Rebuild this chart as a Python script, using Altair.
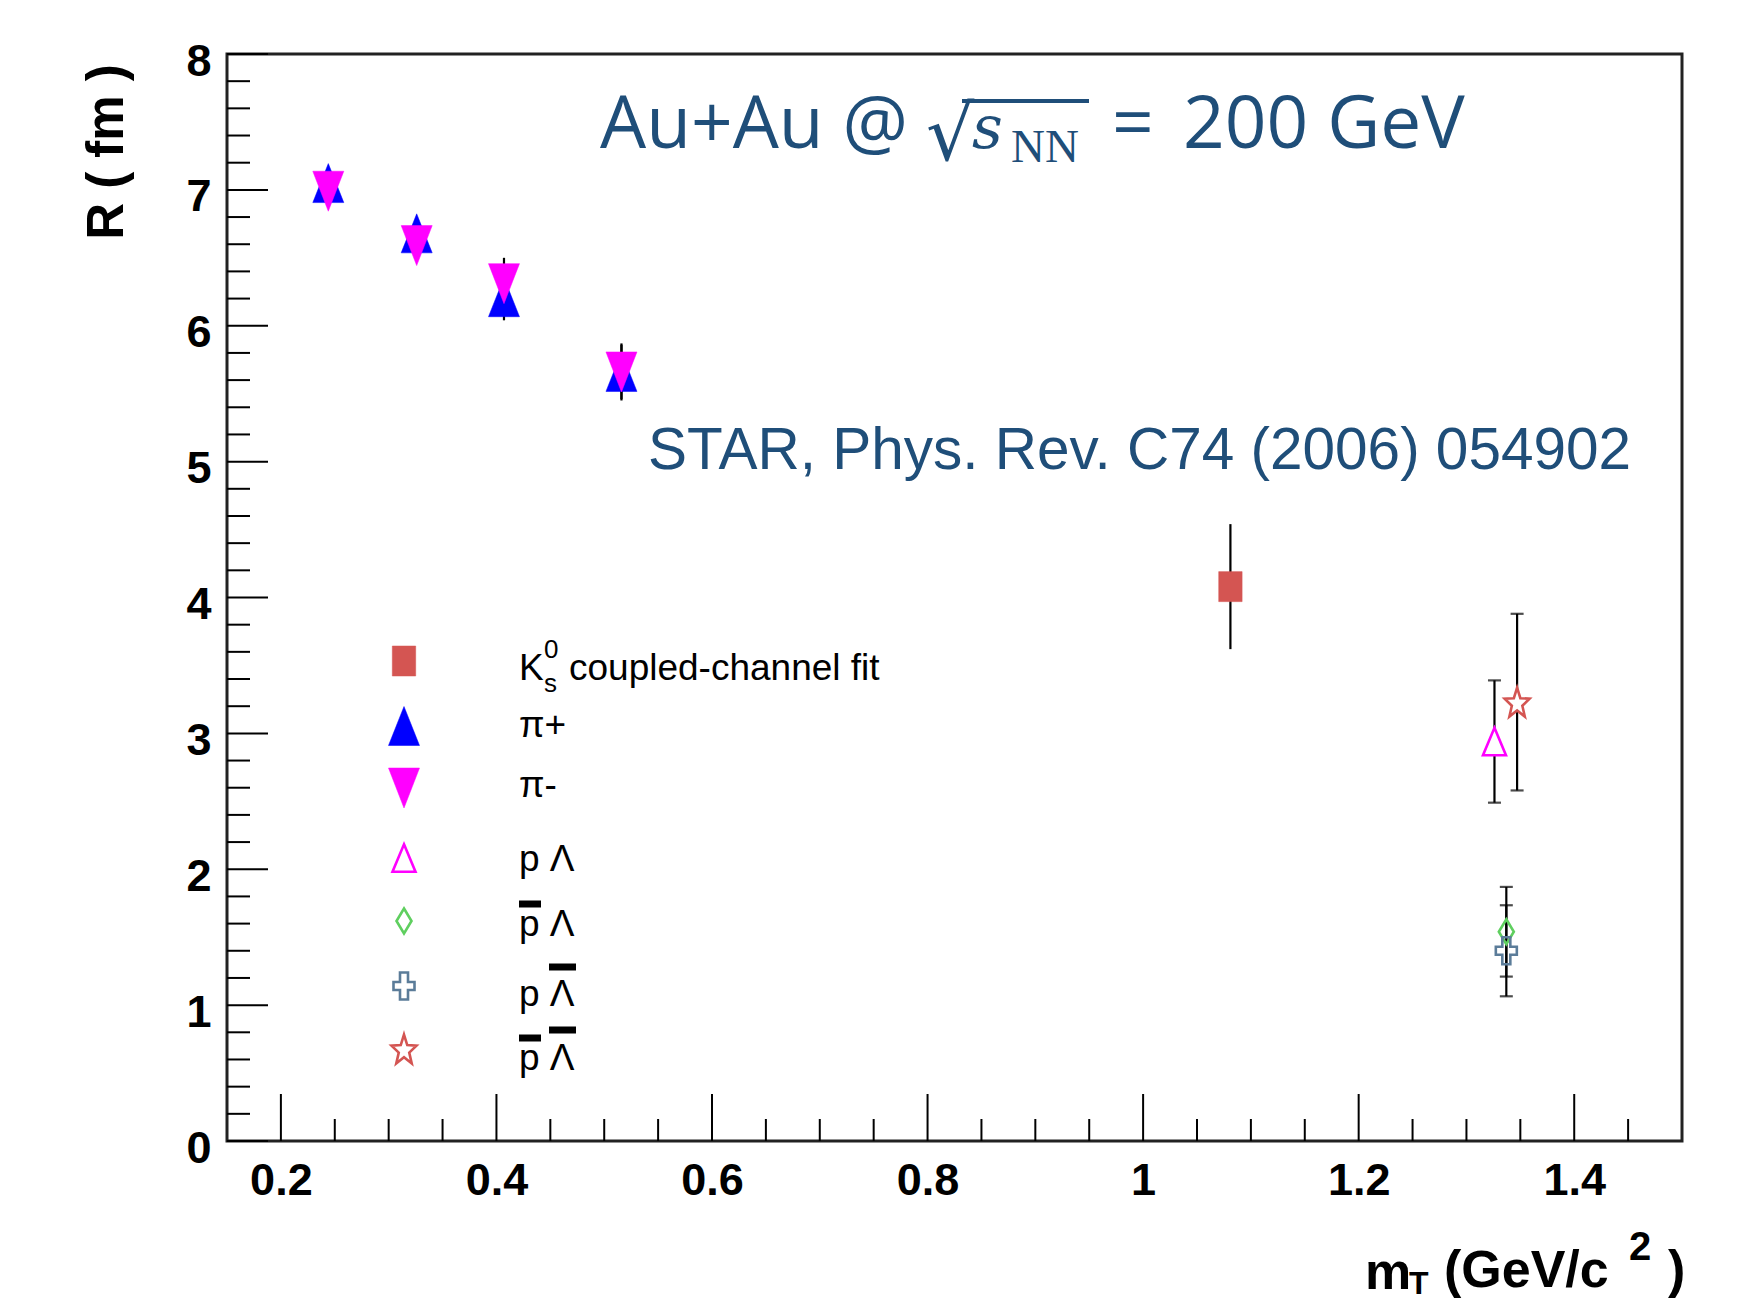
import math
import altair as alt
import pandas as pd

# ---------------- data ----------------
series_names = ["K0", "pi+", "pi-", "pL", "pbarL", "pLbar", "pbarLbar"]

pion_mt = [0.244, 0.326, 0.407, 0.516]
pip_R = [7.05, 6.68, 6.21, 5.66]
pip_err = [0.08, 0.08, 0.17, 0.20]
pim_R = [6.99, 6.59, 6.31, 5.66]
pim_err = [0.08, 0.08, 0.19, 0.21]

k0_mt = [1.081]
k0_R = [4.08]
k0_err = [0.46]

plam_series = ["pL", "pbarL", "pLbar", "pbarLbar"]
plam_mt = [1.326, 1.337, 1.337, 1.347]
plam_R = [2.94, 1.54, 1.40, 3.23]
plam_err = [0.45, 0.33, 0.335, 0.65]

x_major = [0.2, 0.4, 0.6, 0.8, 1.0, 1.2, 1.4]
x_minor = [0.25, 0.3, 0.35, 0.45, 0.5, 0.55, 0.65, 0.7, 0.75, 0.85, 0.9, 0.95,
           1.05, 1.1, 1.15, 1.25, 1.3, 1.35, 1.45]
y_major = [0, 1, 2, 3, 4, 5, 6, 7, 8]
y_minor = [0.2, 0.4, 0.6, 0.8, 1.2, 1.4, 1.6, 1.8, 2.2, 2.4, 2.6, 2.8,
           3.2, 3.4, 3.6, 3.8, 4.2, 4.4, 4.6, 4.8, 5.2, 5.4, 5.6, 5.8,
           6.2, 6.4, 6.6, 6.8, 7.2, 7.4, 7.6, 7.8]

capped = ["pL", "pbarL", "pLbar", "pbarLbar"]
filled_series = ["K0", "pi+", "pi-"]
open_series = ["pL", "pbarL", "pLbar", "pbarLbar"]

# ---------------- build table ----------------
rows = []
for s, xs, rs, es in [("K0", k0_mt, k0_R, k0_err),
                      ("pi+", pion_mt, pip_R, pip_err),
                      ("pi-", pion_mt, pim_R, pim_err)]:
    for xv, rv, ev in zip(xs, rs, es):
        rows.append(dict(series=s, mt=xv, R=rv, lo=rv - ev, hi=rv + ev))
for s, xv, rv, ev in zip(plam_series, plam_mt, plam_R, plam_err):
    rows.append(dict(series=s, mt=xv, R=rv, lo=rv - ev, hi=rv + ev))
df = pd.DataFrame(rows)

# ---------------- styles ----------------
OX, OY, W, H = 227, 54, 1455, 1087
SANS = "Liberation Sans, Arial, Helvetica, DejaVu Sans"
TITLE_C = "#1F4E79"


def star_path():
    pts = []
    for k in range(10):
        a = math.radians(-90 + 36 * k)
        r = 1.0 if k % 2 == 0 else 0.42
        pts.append((0.657 * r * math.cos(a), 0.80 * r * math.sin(a) + 0.076))
    return "M" + "L".join(f"{x:.3f},{y:.3f}" for x, y in pts) + "Z"


shape_paths = [
    "M-0.585,-0.75L0.585,-0.75L0.585,0.75L-0.585,0.75Z",
    "M0,-0.975L0.775,0.975L-0.775,0.975Z",
    "M-0.775,-1L0.775,-1L0,1Z",
    "M0,-0.6875L0.575,0.6875L-0.575,0.6875Z",
    "M0,-0.625L0.375,0L0,0.625L-0.375,0Z",
    "M-0.2,-0.675L0.2,-0.675L0.2,-0.2L0.525,-0.2L0.525,0.2L0.2,0.2L0.2,0.675"
    "L-0.2,0.675L-0.2,0.2L-0.525,0.2L-0.525,-0.2L-0.2,-0.2Z",
    star_path(),
]
fill_colors = ["#D45552", "#0000FF", "#FF00FF", "#FFFFFF", "transparent", "transparent", "#FFFFFF"]
stroke_colors = ["#D45552", "#0000FF", "#FF00FF", "#FF00FF", "#5FCF5F", "#5B7C99", "#D45552"]

shape_enc = alt.Shape("series:N", scale=alt.Scale(domain=series_names, range=shape_paths), legend=None)
fill_enc = alt.Fill("series:N", scale=alt.Scale(domain=series_names, range=fill_colors), legend=None)
stroke_enc = alt.Stroke("series:N", scale=alt.Scale(domain=series_names, range=stroke_colors), legend=None)

xscale = alt.Scale(domain=[0.15, 1.5], nice=False, zero=False)
yscale = alt.Scale(domain=[0, 8], nice=False, zero=False)

xaxis = alt.Axis(values=x_major, format="~g", title=None, ticks=False, tickSize=0,
                 domain=False, grid=False, labelFont=SANS, labelFontSize=45,
                 labelFontWeight="bold", labelColor="black", labelPadding=17,
                 labelBaseline="top", labelFlush=False, labelOverlap=False, labelAngle=0)
yaxis = alt.Axis(values=y_major, format="d", title=None, ticks=False, tickSize=0,
                 domain=False, grid=False, labelFont=SANS, labelFontSize=45,
                 labelFontWeight="bold", labelColor="black", labelPadding=16,
                 labelBaseline="middle", labelOffset=7, labelFlush=False,
                 labelOverlap=False, labelAlign="right")


def X(f):
    return alt.X(f"{f}:Q", scale=xscale, axis=xaxis)


def Y(f):
    return alt.Y(f"{f}:Q", scale=yscale, axis=yaxis)


one = pd.DataFrame({"k": [0]})

# ---------------- inward ticks ----------------
ytick_major = alt.Chart(pd.DataFrame({"R": y_major})).mark_rule(color="black", strokeWidth=2).encode(
    y=Y("R"), x=alt.value(0), x2=alt.value(41))
ytick_minor = alt.Chart(pd.DataFrame({"R": y_minor})).mark_rule(color="black", strokeWidth=2).encode(
    y=Y("R"), x=alt.value(0), x2=alt.value(23))
xtick_major = alt.Chart(pd.DataFrame({"mt": x_major})).mark_rule(color="black", strokeWidth=2).encode(
    x=X("mt"), y=alt.value(H), y2=alt.value(H - 47))
xtick_minor = alt.Chart(pd.DataFrame({"mt": x_minor})).mark_rule(color="black", strokeWidth=2).encode(
    x=X("mt"), y=alt.value(H), y2=alt.value(H - 22))

# ---------------- error bars ----------------
base = alt.Chart(df)
ebars = base.mark_rule(color="black", strokeWidth=2.2).encode(x=X("mt"), y=Y("lo"), y2="hi:Q")
cap_lo = base.transform_filter(alt.FieldOneOfPredicate(field="series", oneOf=capped)).mark_tick(
    orient="horizontal", size=13, thickness=2.2, color="black").encode(x=X("mt"), y=Y("lo"))
cap_hi = base.transform_filter(alt.FieldOneOfPredicate(field="series", oneOf=capped)).mark_tick(
    orient="horizontal", size=13, thickness=2.2, color="black").encode(x=X("mt"), y=Y("hi"))

# ---------------- points ----------------
pts_filled = base.transform_filter(alt.FieldOneOfPredicate(field="series", oneOf=filled_series)).mark_point(
    filled=True, opacity=1, size=1600, strokeWidth=0.5).encode(
    x=X("mt"), y=Y("R"), shape=shape_enc, fill=fill_enc, stroke=stroke_enc)
pts_open = base.transform_filter(alt.FieldOneOfPredicate(field="series", oneOf=open_series)).mark_point(
    filled=True, opacity=1, size=1600, strokeWidth=2.6).encode(
    x=X("mt"), y=Y("R"), shape=shape_enc, fill=fill_enc, stroke=stroke_enc)

# ---------------- legend (drawn by hand, inside the frame) ----------------
LEG_FS = 37
leg_sym_x = 177
leg_sym_y = [607, 672, 734, 804, 867, 932, 995]
leg_txt_x = 292
leg_txt_y = [626, 683, 743, 817, 882, 952, 1016]
leg_labels = ["K", "π+", "π-", "p Λ", "p Λ", "p Λ", "p Λ"]
leg_layers = []
for i, s in enumerate(series_names):
    sw = 0.5 if s in filled_series else 2.6
    leg_layers.append(
        alt.Chart(pd.DataFrame({"series": [s]})).mark_point(
            filled=True, opacity=1, size=1600, strokeWidth=sw).encode(
            x=alt.value(leg_sym_x), y=alt.value(leg_sym_y[i]),
            shape=shape_enc, fill=fill_enc, stroke=stroke_enc))
    leg_layers.append(
        alt.Chart(one).mark_text(text=leg_labels[i], font=SANS, fontSize=LEG_FS, align="left",
                                 baseline="alphabetic", color="black").encode(
            x=alt.value(leg_txt_x), y=alt.value(leg_txt_y[i])))
# K0_s decorations
leg_layers.append(alt.Chart(one).mark_text(text="0", font=SANS, fontSize=26, align="left",
                                           baseline="alphabetic", color="black").encode(
    x=alt.value(317), y=alt.value(604)))
leg_layers.append(alt.Chart(one).mark_text(text="s", font=SANS, fontSize=26, align="left",
                                           baseline="alphabetic", color="black").encode(
    x=alt.value(317), y=alt.value(638)))
leg_layers.append(alt.Chart(one).mark_text(text="coupled-channel fit", font=SANS, fontSize=LEG_FS,
                                           align="left", baseline="alphabetic", color="black").encode(
    x=alt.value(342), y=alt.value(626)))
# overlines (anti-particle bars)
bar_x1 = [292, 322, 292, 322]
bar_x2 = [314, 349, 314, 349]
bar_y = [850, 913, 984, 976]
for a, b, c in zip(bar_x1, bar_x2, bar_y):
    leg_layers.append(alt.Chart(one).mark_rule(color="black", strokeWidth=7).encode(
        x=alt.value(a), x2=alt.value(b), y=alt.value(c)))


# ---------------- annotations ----------------
def txt(t, x, y, font, size, color="black", weight="normal", style="normal", angle=0, align="left",
        baseline="alphabetic"):
    kw = dict(text=t, font=font, fontSize=size, fontWeight=weight, fontStyle=style, color=color,
              align=align, baseline=baseline)
    if angle:
        kw["angle"] = angle
    return alt.Chart(one).mark_text(**kw).encode(x=alt.value(x), y=alt.value(y))


ann = [
    txt("Au+Au @", 373, 94, "Open Sans", 73, TITLE_C),
    txt("√", 699, 106, "DejaVu Serif", 76, TITLE_C),
    txt("s", 745, 94, "DejaVu Serif", 60, TITLE_C, style="italic"),
    txt("NN", 784, 108, "Liberation Serif", 47, TITLE_C),
    txt("=", 885, 94, "Open Sans", 73, TITLE_C),
    txt("200 GeV", 956, 94, "Open Sans", 73, TITLE_C),
    txt("STAR, Phys. Rev. C74 (2006) 054902", 421, 415, SANS, 58.5, TITLE_C),
    txt("R ( fm )", -119, 98, SANS, 51, "black", weight="bold", angle=270, align="center",
        baseline="middle"),
    txt("m", 1138, 1235, SANS, 52, "black", weight="bold"),
    txt("T", 1182, 1240, SANS, 32, "black", weight="bold"),
    txt("(GeV/c", 1217, 1233, SANS, 52, "black", weight="bold"),
    txt("2", 1402, 1206, SANS, 40, "black", weight="bold"),
    txt(")", 1441, 1233, SANS, 52, "black", weight="bold"),
]
sqrt_bar = alt.Chart(one).mark_rule(color=TITLE_C, strokeWidth=4).encode(
    x=alt.value(735), x2=alt.value(862), y=alt.value(47))

chart = alt.layer(
    ytick_major, ytick_minor, xtick_major, xtick_minor,
    ebars, cap_lo, cap_hi, pts_filled, pts_open,
    *leg_layers, *ann, sqrt_bar,
).properties(
    width=W, height=H,
    padding={"left": OX - 8, "top": OY - 8, "right": 50, "bottom": 162},
    autosize=alt.AutoSizeParams(type="none"),
    background="white",
).configure_view(stroke="#222222", strokeWidth=3)

chart.save("out.html", embed_options={"renderer": "svg", "actions": False})
